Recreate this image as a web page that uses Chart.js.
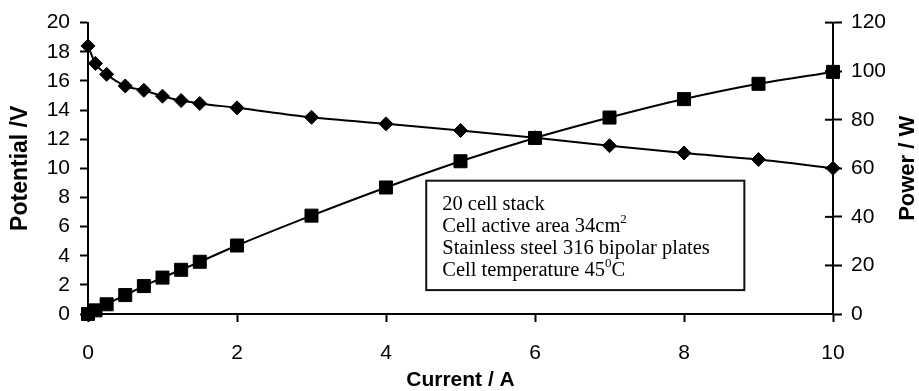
<!DOCTYPE html>
<html>
<head>
<meta charset="utf-8">
<script src="https://cdn.jsdelivr.net/npm/chart.js@4.4.0/dist/chart.umd.min.js"></script>
<style>
  html, body { margin: 0; padding: 0; background: #fff; }
  #wrap { width: 919px; height: 391px; }
</style>
</head>
<body>
<div id="wrap"><canvas id="chart" width="919" height="391"></canvas></div>
<script>
// values
const current = [0, 0.1, 0.25, 0.5, 0.75, 1, 1.25, 1.5, 2, 3, 4, 5, 6, 7, 8, 9, 10];
const potential = [18.4, 17.2, 16.45, 15.65, 15.35, 14.95, 14.65, 14.45, 14.15, 13.5, 13.05, 12.6, 12.1, 11.55, 11.05, 10.6, 10.0];
const power = [0, 1.5, 4.0, 7.8, 11.5, 15.0, 18.2, 21.5, 28.2, 40.5, 52.1, 62.9, 72.5, 80.9, 88.5, 94.8, 99.7];

const powerTitle = 'Power / W';
const noteLines = [
  [['20 cell stack', false]],
  [['Cell active area 34cm', false], ['2', true]],
  [['Stainless steel 316 bipolar plates', false]],
  [['Cell temperature 45', false], ['0', true], ['C', false]]
];
// box corners in axis units (current / potential)
const noteBox = { x0: 4.54, x1: 8.81, y0: 9.15, y1: 1.64 };

const sans = "'Liberation Sans', Arial, sans-serif";
const serif = "'Liberation Serif', 'Times New Roman', serif";

function pts(ys) {
  return current.map((x, i) => ({ x: x, y: ys[i] }));
}

// right axis: ticks cross the axis line, title reads bottom to top
const rightAxis = {
  id: 'rightAxis',
  afterDraw(chart) {
    const s = chart.scales.y1;
    const ctx = chart.ctx;
    ctx.save();
    ctx.strokeStyle = '#000';
    ctx.lineWidth = 2;
    s.ticks.forEach(t => {
      const y = s.getPixelForValue(t.value);
      ctx.beginPath();
      ctx.moveTo(s.left - 8, y);
      ctx.lineTo(s.left, y);
      ctx.stroke();
    });
    ctx.translate(s.right - 11, (s.top + s.bottom) / 2);
    ctx.rotate(-Math.PI / 2);
    ctx.font = 'bold 22px ' + sans;
    ctx.fillStyle = '#000';
    ctx.textAlign = 'center';
    ctx.textBaseline = 'middle';
    ctx.fillText(powerTitle, 0, 0);
    ctx.restore();
  }
};

const note = {
  id: 'note',
  afterDraw(chart) {
    const sx = chart.scales.x, sy = chart.scales.y;
    const ctx = chart.ctx;
    const l = sx.getPixelForValue(noteBox.x0), r = sx.getPixelForValue(noteBox.x1);
    const t = sy.getPixelForValue(noteBox.y0), b = sy.getPixelForValue(noteBox.y1);
    ctx.save();
    ctx.fillStyle = '#fff';
    ctx.fillRect(l, t, r - l, b - t);
    ctx.strokeStyle = '#111';
    ctx.lineWidth = 2;
    ctx.strokeRect(l, t, r - l, b - t);
    // the text box cuts off the last line's descenders
    ctx.beginPath();
    ctx.rect(l, t, r - l, b - t - 9);
    ctx.clip();
    ctx.fillStyle = '#000';
    ctx.textBaseline = 'alphabetic';
    let base = t + 29;
    noteLines.forEach(line => {
      let x = l + 16;
      line.forEach(([txt, sup]) => {
        ctx.font = (sup ? '13px ' : '20.5px ') + serif;
        ctx.fillText(txt, x, sup ? base - 9 : base);
        x += ctx.measureText(txt).width;
      });
      base += 22;
    });
    ctx.restore();
  }
};

new Chart(document.getElementById('chart'), {
  type: 'line',
  data: {
    datasets: [
      {
        label: 'Potential',
        data: pts(potential),
        yAxisID: 'y',
        borderColor: '#000',
        backgroundColor: '#000',
        borderWidth: 2,
        pointStyle: 'rectRot',
        pointRadius: 7,
        pointBorderWidth: 1,
        cubicInterpolationMode: 'monotone',
        clip: false
      },
      {
        label: 'Power',
        data: pts(power),
        yAxisID: 'y1',
        borderColor: '#000',
        backgroundColor: '#000',
        borderWidth: 2,
        pointStyle: 'rect',
        pointRadius: 9.2,
        pointBorderWidth: 1,
        cubicInterpolationMode: 'monotone',
        clip: false
      }
    ]
  },
  options: {
    responsive: false,
    animation: false,
    layout: { padding: { top: 21, left: 0, right: 0, bottom: 0 } },
    plugins: { legend: { display: false }, tooltip: { enabled: false } },
    scales: {
      x: {
        type: 'linear',
        min: 0,
        max: 10,
        afterFit: s => { s.height = 77; },
        ticks: { stepSize: 2, color: '#000', padding: 19, font: { family: sans, size: 21 } },
        grid: { drawOnChartArea: false, drawTicks: true, tickLength: 8, tickColor: '#000', tickWidth: 2 },
        border: { display: true, color: '#000', width: 2 },
        title: { display: true, text: 'Current / A', color: '#000', padding: { top: 0, bottom: 0 },
          font: { family: sans, size: 21, weight: 'bold', lineHeight: 1 } }
      },
      y: {
        position: 'left',
        min: 0,
        max: 20,
        afterFit: s => { s.width = 88; },
        ticks: { stepSize: 2, color: '#000', padding: 10, font: { family: sans, size: 21 } },
        grid: { drawOnChartArea: false, drawTicks: true, tickLength: 8, tickColor: '#000', tickWidth: 2 },
        border: { display: true, color: '#000', width: 2 },
        title: { display: true, text: 'Potential /V', color: '#000', padding: { top: 9, bottom: 0 },
          font: { family: sans, size: 23, weight: 'bold', lineHeight: 1 } }
      },
      y1: {
        position: 'right',
        min: 0,
        max: 120,
        afterFit: s => { s.width = 86; },
        ticks: { stepSize: 20, color: '#000', padding: 9, font: { family: sans, size: 21 } },
        grid: { drawOnChartArea: false, drawTicks: true, tickLength: 9, tickColor: '#000', tickWidth: 2 },
        border: { display: true, color: '#000', width: 2 },
        title: { display: false }
      }
    }
  },
  plugins: [rightAxis, note]
});
</script>
</body>
</html>
